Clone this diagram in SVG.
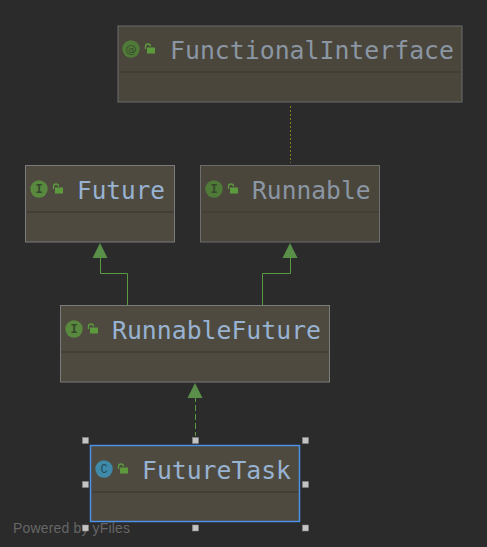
<svg xmlns="http://www.w3.org/2000/svg" width="487" height="547" viewBox="0 0 487 547">
<style>
.box{fill:#4f4a3f;stroke:#7b7b7b;stroke-width:1}
.dim .box{fill:#4a463c;stroke:#6d6d6d}
.sep{stroke:#433f36;stroke-width:2}
.name{font-family:"DejaVu Sans Mono","Liberation Mono",monospace;font-size:24px;fill:#98b3d2}
.dim .name{fill:#8a96a3}
.badge{fill:#59883f}
.dim .badge{fill:#4f7a38}
.blet{font-family:"Liberation Mono",monospace;font-size:12px;font-weight:bold;fill:#35482b;text-anchor:middle}
.lock{fill:#5d9a3e}
.shackle{fill:none;stroke:#5d9a3e;stroke-width:1.300}
.edge{fill:none;stroke:#5a9a42;stroke-width:1}
.head{fill:#5a8f4a}
.handle{fill:#c4c4c4;stroke:#8a8a8a;stroke-width:.5}
</style>
<rect width="487" height="547" fill="#2b2b2b"/>
<g id="connectors">
<path d="M290.500 106V163" fill="none" stroke="#857a1e" stroke-width="1" stroke-dasharray="2 2"/>
<path class="edge" d="M100.500 256V273.500H127.500V305"/>
<path class="edge" d="M290.500 256V273.500H262.500V305"/>
<path class="edge" d="M195.500 396V436" stroke-dasharray="6 3"/>
<path class="head" d="M100 243L107.500 258H92.500Z"/>
<path class="head" d="M290 243L297.500 258H282.500Z"/>
<path class="head" d="M195 383L202.500 398H187.500Z"/>
</g>
<g id="FunctionalInterface" class="dim">
<rect class="box" x="118" y="26" width="344" height="76"/>
<path class="sep" d="M119 72H461"/>
<circle class="badge" cx="131" cy="49" r="8.700"/>
<text class="blet" x="131" y="53" style="font-family:'DejaVu Sans',sans-serif;font-size:11px;font-weight:normal">@</text>
<path class="shackle" d="M145.500 49V46.500A2.500 2.500 0 0 1 150.500 46.500"/>
<rect class="lock" x="147" y="47.500" width="8" height="6"/>
<text class="name" x="170" y="58.500" textLength="284" lengthAdjust="spacingAndGlyphs">FunctionalInterface</text>
</g>
<g id="Future">
<rect class="box" x="25.500" y="165.500" width="149" height="76.500"/>
<path class="sep" d="M27 212H174"/>
<circle class="badge" cx="39" cy="189" r="8.700"/>
<text class="blet" x="39" y="193">I</text>
<path class="shackle" d="M53.500 189V186.500A2.500 2.500 0 0 1 58.500 186.500"/>
<rect class="lock" x="55" y="187.500" width="8" height="6"/>
<text class="name" x="77" y="198.500" textLength="88" lengthAdjust="spacingAndGlyphs">Future</text>
</g>
<g id="Runnable" class="dim">
<rect class="box" x="200.500" y="165.500" width="179" height="76.500"/>
<path class="sep" d="M202 212H379"/>
<circle class="badge" cx="214" cy="189" r="8.700"/>
<text class="blet" x="214" y="193">I</text>
<path class="shackle" d="M228.500 189V186.500A2.500 2.500 0 0 1 233.500 186.500"/>
<rect class="lock" x="230" y="187.500" width="8" height="6"/>
<text class="name" x="252" y="198.500" textLength="118.500" lengthAdjust="spacingAndGlyphs">Runnable</text>
</g>
<g id="RunnableFuture">
<rect class="box" x="60.500" y="305.500" width="269" height="76.500"/>
<path class="sep" d="M62 352H329"/>
<circle class="badge" cx="74" cy="329" r="8.700"/>
<text class="blet" x="74" y="333">I</text>
<path class="shackle" d="M88.500 329V326.500A2.500 2.500 0 0 1 93.500 326.500"/>
<rect class="lock" x="90" y="327.500" width="8" height="6"/>
<text class="name" x="112" y="338.500" textLength="209" lengthAdjust="spacingAndGlyphs">RunnableFuture</text>
</g>
<g id="FutureTask">
<rect class="box" x="90.500" y="445.500" width="209" height="76" style="stroke:#4a94f0;stroke-width:1.400"/>
<path class="sep" d="M92 492H298"/>
<circle cx="104" cy="469" r="8.700" fill="#3f8aa8"/>
<text class="blet" x="104" y="473" style="fill:#234a5c;font-weight:normal">C</text>
<path class="shackle" d="M118.500 469V466.500A2.500 2.500 0 0 1 123.500 466.500"/>
<rect class="lock" x="120" y="467.500" width="8" height="6"/>
<text class="name" x="142" y="478.500" textLength="149" lengthAdjust="spacingAndGlyphs">FutureTask</text>
</g>
<text x="13" y="533" font-family="Liberation Sans, sans-serif" font-size="14" fill="#666666" textLength="117">Powered by yFiles</text>
<g id="handles">
<rect class="handle" x="82.500" y="437.500" width="6" height="6"/>
<rect class="handle" x="192.500" y="437.500" width="6" height="6"/>
<rect class="handle" x="302.500" y="437.500" width="6" height="6"/>
<rect class="handle" x="82.500" y="481.500" width="6" height="6"/>
<rect class="handle" x="302.500" y="481.500" width="6" height="6"/>
<rect class="handle" x="82.500" y="525" width="6" height="6"/>
<rect class="handle" x="192.500" y="525" width="6" height="6"/>
<rect class="handle" x="302.500" y="525" width="6" height="6"/>
</g>
</svg>
